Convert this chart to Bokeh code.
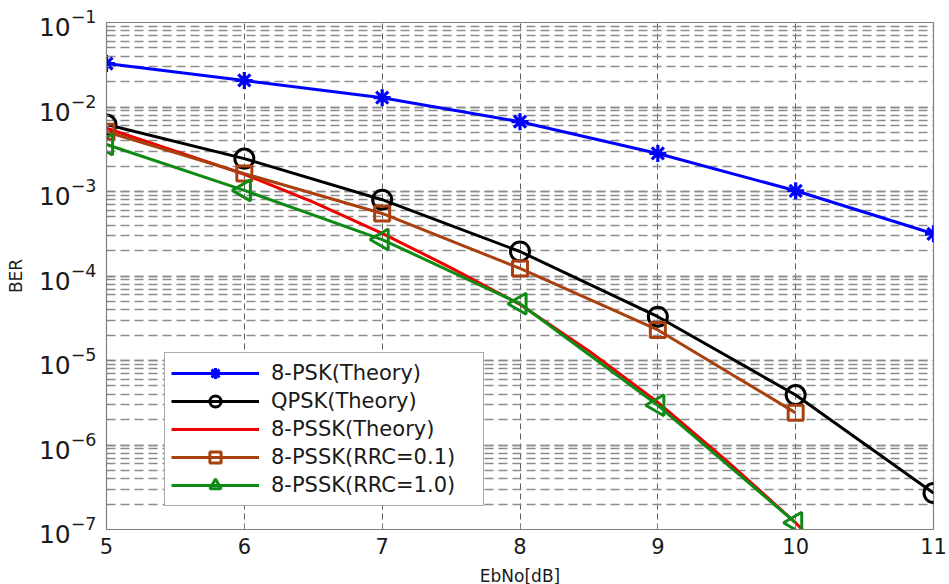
import numpy as np
from bokeh.plotting import figure
from bokeh.models import Legend, LegendItem, Range1d, FixedTicker, LogTicker
from bokeh.embed import file_html
from bokeh.resources import INLINE

# ---- data ----
ebno = [5, 6, 7, 8, 9, 10, 11]
ber_8psk = [3.27e-2, 2.06e-2, 1.29e-2, 6.7e-3, 2.82e-3, 1.02e-3, 3.16e-4]
ber_qpsk = [6.2e-3, 2.45e-3, 8.0e-4, 1.95e-4, 3.3e-5, 3.9e-6, 2.7e-7]

ebno_pssk_th = [5, 5.5, 6, 6.5, 7, 7.5, 8, 8.5, 9, 9.5, 10, 10.5]
ber_pssk_th = [5.6e-3, 3.0e-3, 1.6e-3, 7.5e-4, 3.2e-4, 1.25e-4, 4.6e-5,
               1.3e-5, 3.2e-6, 6.5e-7, 1.2e-7, 1.7e-8]

ebno_rrc = [5, 6, 7, 8, 9, 10]
ber_rrc01 = [5.1e-3, 1.63e-3, 5.5e-4, 1.23e-4, 2.3e-5, 2.4e-6]
ber_rrc10 = [3.6e-3, 1.03e-3, 2.7e-4, 4.7e-5, 2.95e-6, 1.2e-7]

labels = ["8-PSK(Theory)", "QPSK(Theory)", "8-PSSK(Theory)",
          "8-PSSK(RRC=0.1)", "8-PSSK(RRC=1.0)"]
x_ticks = [5, 6, 7, 8, 9, 10, 11]

BLUE = "#0000ff"
BLACK = "#000000"
RED = "#ee0000"
BROWN = "#a8400f"
GREEN = "#0f8a14"
FONT = "DejaVu Sans"

p = figure(frame_width=827, frame_height=507, y_axis_type="log",
           x_range=Range1d(5, 11), y_range=Range1d(1e-7, 1e-1),
           output_backend="svg", toolbar_location=None,
           min_border_left=106, min_border_right=14, min_border_top=22,
           min_border_bottom=53)
p.background_fill_color = "white"
p.outline_line_color = "#808080"
p.outline_line_width = 1.2

# axes
p.xaxis.ticker = FixedTicker(ticks=x_ticks)
p.yaxis.ticker = LogTicker(num_minor_ticks=10)
for ax in (p.xaxis[0], p.yaxis[0]):
    ax.major_label_text_font = FONT
    ax.major_label_text_color = "#1a1a1a"
    ax.axis_label_text_font = FONT
    ax.axis_label_text_font_size = "17px"
    ax.axis_label_text_font_style = "normal"
    ax.axis_label_text_color = "#1a1a1a"
    ax.axis_line_color = "#808080"
    ax.major_tick_line_color = "#808080"
    ax.major_tick_in = 6
    ax.major_tick_out = 0
    ax.minor_tick_in = 3
    ax.minor_tick_out = 0
    ax.minor_tick_line_color = "#808080"
p.xaxis.major_label_text_font_size = "21px"
p.yaxis.major_label_text_font_size = "25px"
p.xaxis.axis_label = "EbNo[dB]"
p.yaxis.axis_label = "BER"
p.xaxis.major_label_standoff = 8
p.xaxis.axis_label_standoff = 9
p.yaxis.major_label_standoff = 10
p.yaxis.axis_label_standoff = 10

# grids
p.xgrid.grid_line_color = "#333333"
p.xgrid.grid_line_dash = "6 4"
p.xgrid.grid_line_width = 1
p.xgrid.grid_line_alpha = 0.8
p.ygrid.grid_line_color = "#8c8c8c"
p.ygrid.grid_line_dash = "9 5"
p.ygrid.grid_line_width = 1.3
p.ygrid.minor_grid_line_color = "#8c8c8c"
p.ygrid.minor_grid_line_dash = "9 5"
p.ygrid.minor_grid_line_width = 1.3

LW = 3

l1 = p.line(ebno, ber_8psk, line_color=BLUE, line_width=LW)
s1 = p.scatter(ebno, ber_8psk, marker="asterisk", size=17, line_color=BLUE,
               line_width=3.2)
l2 = p.line(ebno, ber_qpsk, line_color=BLACK, line_width=LW)
s2 = p.scatter(ebno, ber_qpsk, marker="circle", size=19, line_color=BLACK,
               fill_color=None, line_width=3)
l3 = p.line(ebno_pssk_th, ber_pssk_th, line_color=RED, line_width=LW)
l4 = p.line(ebno_rrc, ber_rrc01, line_color=BROWN, line_width=LW)
s4 = p.scatter(ebno_rrc, ber_rrc01, marker="square", size=15, line_color=BROWN,
               fill_color=None, line_width=3)
l5 = p.line(ebno_rrc, ber_rrc10, line_color=GREEN, line_width=LW)
s5 = p.scatter(ebno_rrc, ber_rrc10, marker="triangle", angle=np.pi / 2,
               size=21, line_color=GREEN, fill_color=None, line_width=3)

legend = Legend(items=[
    LegendItem(label=labels[0], renderers=[l1, s1]),
    LegendItem(label=labels[1], renderers=[l2, s2]),
    LegendItem(label=labels[2], renderers=[l3]),
    LegendItem(label=labels[3], renderers=[l4, s4]),
    LegendItem(label=labels[4], renderers=[l5, s5]),
], location=(58, 23))
legend.label_text_font = FONT
legend.label_text_font_size = "21px"
legend.label_text_color = "#1a1a1a"
legend.glyph_width = 88
legend.glyph_height = 28
legend.spacing = 0
legend.padding = 6
legend.margin = 0
legend.label_standoff = 12
legend.label_height = 28
legend.label_width = 206
legend.border_line_color = "#555555"
legend.border_line_width = 1.2
legend.background_fill_alpha = 1
p.add_layout(legend, "center")

open("out.html", "w").write(file_html(p, INLINE))
